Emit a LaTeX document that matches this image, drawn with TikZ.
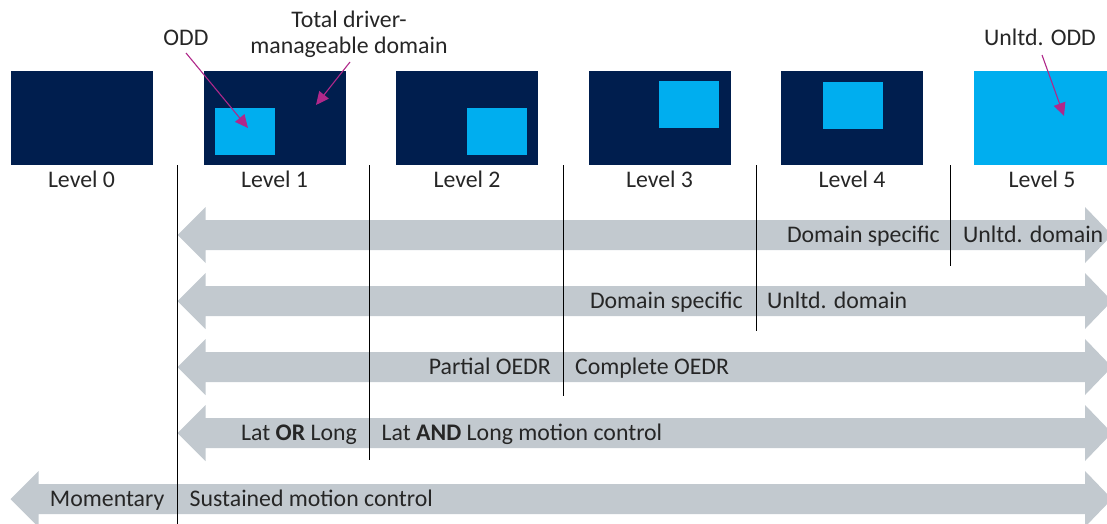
\documentclass[tikz,border=0pt]{standalone}
\usepackage{fontspec}
\setmainfont{Carlito}
\usetikzlibrary{arrows.meta}
\definecolor{navy}{HTML}{001E4E}
\definecolor{skyblue}{HTML}{00AEEF}
\definecolor{bandgrey}{HTML}{C2C9CF}
\definecolor{callout}{HTML}{B0288A}
\definecolor{ink}{HTML}{262626}
\tikzset{
  domainbox/.style={fill=navy, draw=none, minimum width=142pt, minimum height=94pt, inner sep=0pt, anchor=north west},
  oddbox/.style={fill=skyblue, draw=none, minimum width=60pt, minimum height=47pt, inner sep=0pt, anchor=north west},
  txt/.style={font=\fontsize{23.8}{26.5}\selectfont, text=ink, inner sep=0pt},
  levellabel/.style={txt, anchor=base},
  bandleft/.style={txt, anchor=base east},
  bandright/.style={txt, anchor=base west},
  divider/.style={black, line width=0.9pt},
  pointer/.style={callout, line width=1.1pt, -{Triangle[length=13pt, width=12pt]}},
  band/.style={fill=bandgrey, draw=none}
}
% double-headed band: #1 left tip x, #2 right tip x, #3 centre y
\newcommand{\levelband}[3]{%
  \fill[band] (#1,#3) -- ++(28,-28) -- ++(0,13) -- (#2-27,#3-15) -- ++(0,-13)
    -- (#2,#3) -- (#2-27,#3+28) -- ++(0,-13) -- (#1+28,#3+15) -- ++(0,13) -- cycle;}
\begin{document}
\begin{tikzpicture}[x=1pt, y=-1pt]
\useasboundingbox (0,0) rectangle (1107,524);
\clip (0,0) rectangle (1107,524);

% level boxes
\node[domainbox] (b0) at (10.5,71) {};
\node[domainbox] (b1) at (203.5,71) {};
\node[domainbox] (b2) at (396,71) {};
\node[domainbox] (b3) at (588.5,71) {};
\node[domainbox] (b4) at (781,71) {};
\node[domainbox, fill=skyblue] (b5) at (974,71) {};

% operational design domains inside the boxes
\node[oddbox] (o1) at (215,108) {};
\node[oddbox] (o2) at (466.5,108) {};
\node[oddbox] (o3) at (659,81) {};
\node[oddbox] (o4) at (823,82) {};

% level captions
\node[levellabel] (l0) at (81.5,187) {Level 0};
\node[levellabel] (l1) at (274.5,187) {Level 1};
\node[levellabel] (l2) at (467,187) {Level 2};
\node[levellabel] (l3) at (659.5,187) {Level 3};
\node[levellabel] (l4) at (852,187) {Level 4};
\node[levellabel] (l5) at (1042,187) {Level 5};

% bands
\levelband{177.5}{1112}{235}
\levelband{177.5}{1112}{301}
\levelband{177.5}{1112}{367}
\levelband{177.5}{1112}{433}
\levelband{10.5}{1112}{499}

% dividers between levels
\coordinate (d1t) at (177.5,165); \coordinate (d1b) at (177.5,524);
\coordinate (d2t) at (369.5,165); \coordinate (d2b) at (369.5,460);
\coordinate (d3t) at (563,165);   \coordinate (d3b) at (563,396);
\coordinate (d4t) at (756,165);   \coordinate (d4b) at (756,331);
\coordinate (d5t) at (950,165);   \coordinate (d5b) at (950,266);
\draw[divider] (d1t) -- (d1b);
\draw[divider] (d2t) -- (d2b);
\draw[divider] (d3t) -- (d3b);
\draw[divider] (d4t) -- (d4b);
\draw[divider] (d5t) -- (d5b);

% band texts
\node[bandleft]  (t1a) at (940,242.5) {Domain specific};
\node[bandright] (t1b) at (963,242.5) {Unltd. domain};
\node[bandleft]  (t2a) at (743,308.5) {Domain specific};
\node[bandright] (t2b) at (767,308.5) {Unltd. domain};
\node[bandleft]  (t3a) at (551,374.5) {Partial OEDR};
\node[bandright] (t3b) at (575,374.5) {Complete OEDR};
\node[bandleft]  (t4a) at (357,440.5) {Lat \textbf{OR} Long};
\node[bandright] (t4b) at (381.5,440.5) {Lat \textbf{AND} Long motion control};
\node[bandleft]  (t5a) at (164.5,506.5) {Momentary};
\node[bandright] (t5b) at (189.5,506.5) {Sustained motion control};

% annotations
\node[txt, anchor=base] (oddlbl) at (186,46) {ODD};
\node[txt, anchor=base, align=center] (tdlbl) at (349,54) {Total driver-\\manageable domain};
\node[txt, anchor=base] (ulbl) at (1040,46) {Unltd. ODD};
\coordinate (oddfrom) at (186,53);
\coordinate (oddtip) at (248,128);
\coordinate (tdfrom) at (350,62);
\coordinate (tdtip) at (316,105);
\coordinate (ufrom) at (1042,55);
\coordinate (utip) at (1064,116);
\draw[pointer] (oddfrom) -- (oddtip);
\draw[pointer] (tdfrom) -- (tdtip);
\draw[pointer] (ufrom) -- (utip);
\end{tikzpicture}
\end{document}
